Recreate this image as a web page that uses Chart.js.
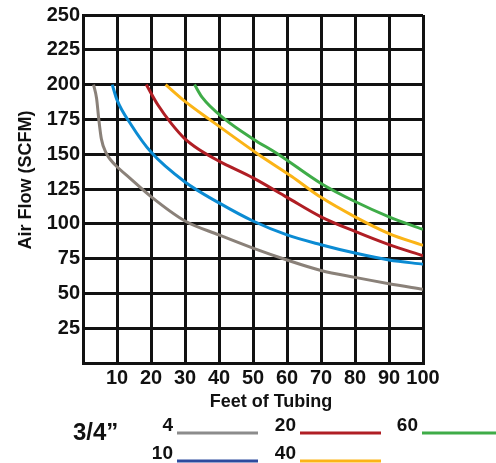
<!DOCTYPE html>
<html>
<head>
<meta charset="utf-8">
<script src="https://cdn.jsdelivr.net/npm/chart.js@4.4.1/dist/chart.umd.min.js"></script>
<style>
  html, body { margin: 0; padding: 0; background: #fff; }
  #wrap { width: 496px; height: 463px; position: relative; }
</style>
</head>
<body>
<div id="wrap"><canvas id="flowChart"></canvas></div>
<script>
// tubing lengths (x) and air flow (y), one pair per tubing size
const sizeLabels = ['4', '10', '20', '40', '60'];

const feet4 = [3.1, 4.0, 4.6, 5.4, 6.8, 8.1, 10, 13.7, 20, 30, 40, 50, 60, 70, 80, 90, 100];
const flow4 = [200, 190, 176, 161, 151, 146, 141, 133, 119.5, 102, 92, 82.5, 74, 66.5, 61.5, 57, 53];

const feet10 = [8.6, 10, 14.2, 20, 30, 40, 50, 60, 70, 80, 90, 100];
const flow10 = [200, 189, 171, 151.5, 130, 115, 102, 92, 85, 79, 74, 71];

const feet20 = [18.6, 22, 26, 30, 34, 40, 50, 60, 70, 80, 90, 100];
const flow20 = [200, 185.5, 172, 161, 153.5, 145, 133, 119, 105, 94.5, 85, 77];

const feet40 = [24.3, 30, 37.2, 51.5, 61.4, 70, 80, 90, 100];
const flow40 = [200, 188, 175, 150, 134, 119, 105, 93, 84.5];

const feet60 = [32.8, 35, 41.8, 50, 57.4, 70, 80, 90, 100];
const flow60 = [200, 191, 175, 161, 150, 129, 116, 105, 96];

const xTicks = [0, 10, 20, 30, 40, 50, 60, 70, 80, 90, 100];
const yTicks = [0, 25, 50, 75, 100, 125, 150, 175, 200, 225, 250];

const xTitle = 'Feet of Tubing';
const yTitle = 'Air Flow (SCFM)';
const legendTitle = '3/4\u201D';

// styles
const lineColors = ['#8a8179', '#0b8bd3', '#b01e24', '#fbb416', '#3fac48'];
const legendColors = ['#8c8c8c', '#2d4b9e', '#b01e24', '#fbb416', '#3fac48'];
const FONT = "'Liberation Sans', Arial, sans-serif";
const INK = '#111';

function pairs(xs, ys) {
    return xs.map((x, i) => ({ x: x, y: ys[i] }));
}

const seriesX = [feet4, feet10, feet20, feet40, feet60];
const seriesY = [flow4, flow10, flow20, flow40, flow60];

const datasets = sizeLabels.map((name, i) => ({
    label: name,
    data: pairs(seriesX[i], seriesY[i]),
    borderColor: lineColors[i],
    borderWidth: 3,
    pointRadius: 0,
    fill: false,
    cubicInterpolationMode: 'monotone'
}));

// axis titles sit off-centre in the original, so they are drawn here
// legend below the plot: "3/4”" then size labels with coloured strokes
const sizeLegend = {
    id: 'sizeLegend',
    afterDraw(chart) {
        const ctx = chart.ctx;
        ctx.save();
        ctx.fillStyle = INK;

        ctx.font = 'bold 18px ' + FONT;
        ctx.textAlign = 'center';
        ctx.textBaseline = 'alphabetic';
        ctx.fillText(xTitle, 271, 407);

        ctx.save();
        ctx.translate(26, 180);
        ctx.rotate(-Math.PI / 2);
        ctx.textBaseline = 'middle';
        ctx.fillText(yTitle, 0, 0);
        ctx.restore();

        ctx.textBaseline = 'alphabetic';
        ctx.font = 'bold 24px ' + FONT;
        ctx.textAlign = 'left';
        ctx.fillText(legendTitle, 73, 440);

        // column / row placement for 4,10,20,40,60
        const textRight = [173, 173, 296, 296, 418];
        const rowY = [431, 459, 431, 459, 431];
        ctx.font = 'bold 19px ' + FONT;
        ctx.textAlign = 'right';
        sizeLabels.forEach((name, i) => {
            ctx.fillStyle = INK;
            ctx.fillText(name, textRight[i], rowY[i]);
            ctx.strokeStyle = legendColors[i];
            ctx.lineWidth = 3;
            ctx.beginPath();
            ctx.moveTo(textRight[i] + 4, rowY[i] + 2);
            ctx.lineTo(textRight[i] + 85, rowY[i] + 2);
            ctx.stroke();
        });
        ctx.restore();
    }
};

const chart = new Chart(document.getElementById('flowChart'), {
    type: 'line',
    data: { datasets: datasets },
    plugins: [sizeLegend],
    options: {
        responsive: true,
        maintainAspectRatio: false,
        animation: false,
        layout: { padding: { top: 15, right: 73, left: 0, bottom: 0 } },
        plugins: {
            legend: { display: false },
            tooltip: { enabled: false }
        },
        scales: {
            x: {
                type: 'linear',
                min: 0,
                max: 100,
                afterBuildTicks: (scale) => { scale.ticks = xTicks.map(v => ({ value: v })); },
                afterFit: (scale) => { scale.height = 100; },
                ticks: {
                    callback: (v) => v === 0 ? '' : v,
                    color: INK,
                    font: { family: FONT, size: 20, weight: 'bold' },
                    padding: 3,
                    maxRotation: 0,
                    autoSkip: false
                },
                grid: { color: INK, lineWidth: 3, drawTicks: false },
                border: { color: INK, width: 3 }
            },
            y: {
                min: 0,
                max: 250,
                afterBuildTicks: (scale) => { scale.ticks = yTicks.map(v => ({ value: v })); },
                afterFit: (scale) => { scale.width = 83; },
                ticks: {
                    callback: (v) => v === 0 ? '' : v,
                    color: INK,
                    font: { family: FONT, size: 20, weight: 'bold' },
                    padding: 3
                },
                grid: { color: INK, lineWidth: 3, drawTicks: false },
                border: { color: INK, width: 3 }
            }
        }
    }
});
</script>
</body>
</html>
